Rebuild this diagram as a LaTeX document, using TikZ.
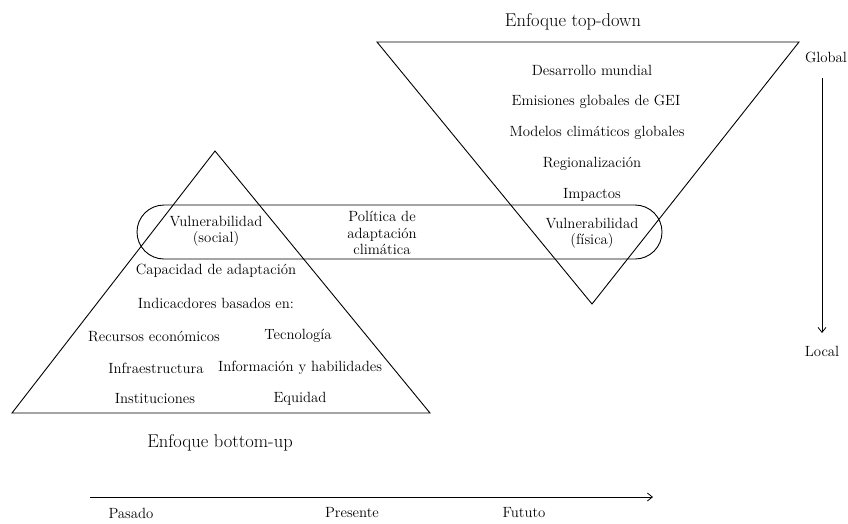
\documentclass[tikz,border=0pt]{standalone}
\usetikzlibrary{arrows.meta}
\begin{document}
\begin{tikzpicture}[x=1pt,y=-1pt,
  lbl/.style={font=\fontsize{14.8}{16.5}\selectfont, align=center, inner sep=0pt},
  ttl/.style={font=\fontsize{18.5}{21}\selectfont, inner sep=0pt},
  shp/.style={draw, line width=0.9pt},
  arr/.style={draw, line width=0.8pt, -{Straight Barb[length=5pt,width=8pt]}}]
\useasboundingbox (0,0) rectangle (848,523);
% inverted triangle
\coordinate (tl) at (377,42);
\coordinate (tr) at (799,42);
\coordinate (tb) at (592,304);
\draw[shp] (tl) -- (tr) -- (tb) -- cycle;
% upright triangle
\coordinate (ba) at (215,151);
\coordinate (bl) at (12,413);
\coordinate (br) at (430,413);
\draw[shp] (ba) -- (bl) -- (br) -- cycle;
% rounded rectangle
\draw[shp, rounded corners=27pt] (137,205) rectangle (662,259);
% texts
\node[ttl] (t1) at (573,22) {Enfoque top-down};
\node[lbl] (d1) at (592,70) {Desarrollo mundial};
\node[lbl] (d2) at (596,102) {Emisiones globales de GEI};
\node[lbl] (d3) at (597,133) {Modelos climáticos globales};
\node[lbl] (d4) at (592,164) {Regionalización};
\node[lbl] (d5) at (592,195) {Impactos};
\node[lbl] (d6) at (592,233) {Vulnerabilidad\\(física)};
\node[lbl] (p1) at (382,233) {Política de\\adaptación\\climática};
\node[lbl] (u1) at (216,231) {Vulnerabilidad\\(social)};
\node[lbl] (u2) at (216,271) {Capacidad de adaptación};
\node[lbl] (u3) at (216,303) {Indicacdores basados en:};
\node[lbl] (u4) at (154,336) {Recursos económicos};
\node[lbl] (u5) at (298,336) {Tecnología};
\node[lbl] (u6) at (156,368) {Infraestructura};
\node[lbl] (u7) at (300,368) {Información y habilidades};
\node[lbl] (u8) at (155,399) {Instituciones};
\node[lbl] (u9) at (300,399) {Equidad};
\node[ttl] (t2) at (220,443) {Enfoque bottom-up};
% vertical scale
\node[lbl] (gl) at (826,57) {Global};
\node[lbl] (lc) at (822,351) {Local};
\coordinate (va) at (822,78);
\coordinate (vb) at (822,333);
\draw[arr] (va) -- (vb);
% time axis
\coordinate (ha) at (90,497);
\coordinate (hb) at (653,497);
\draw[arr] (ha) -- (hb);
\node[lbl] (ps) at (131,513) {Pasado};
\node[lbl] (pr) at (352,513) {Presente};
\node[lbl] (fu) at (524,513) {Fututo};
\end{tikzpicture}
\end{document}
